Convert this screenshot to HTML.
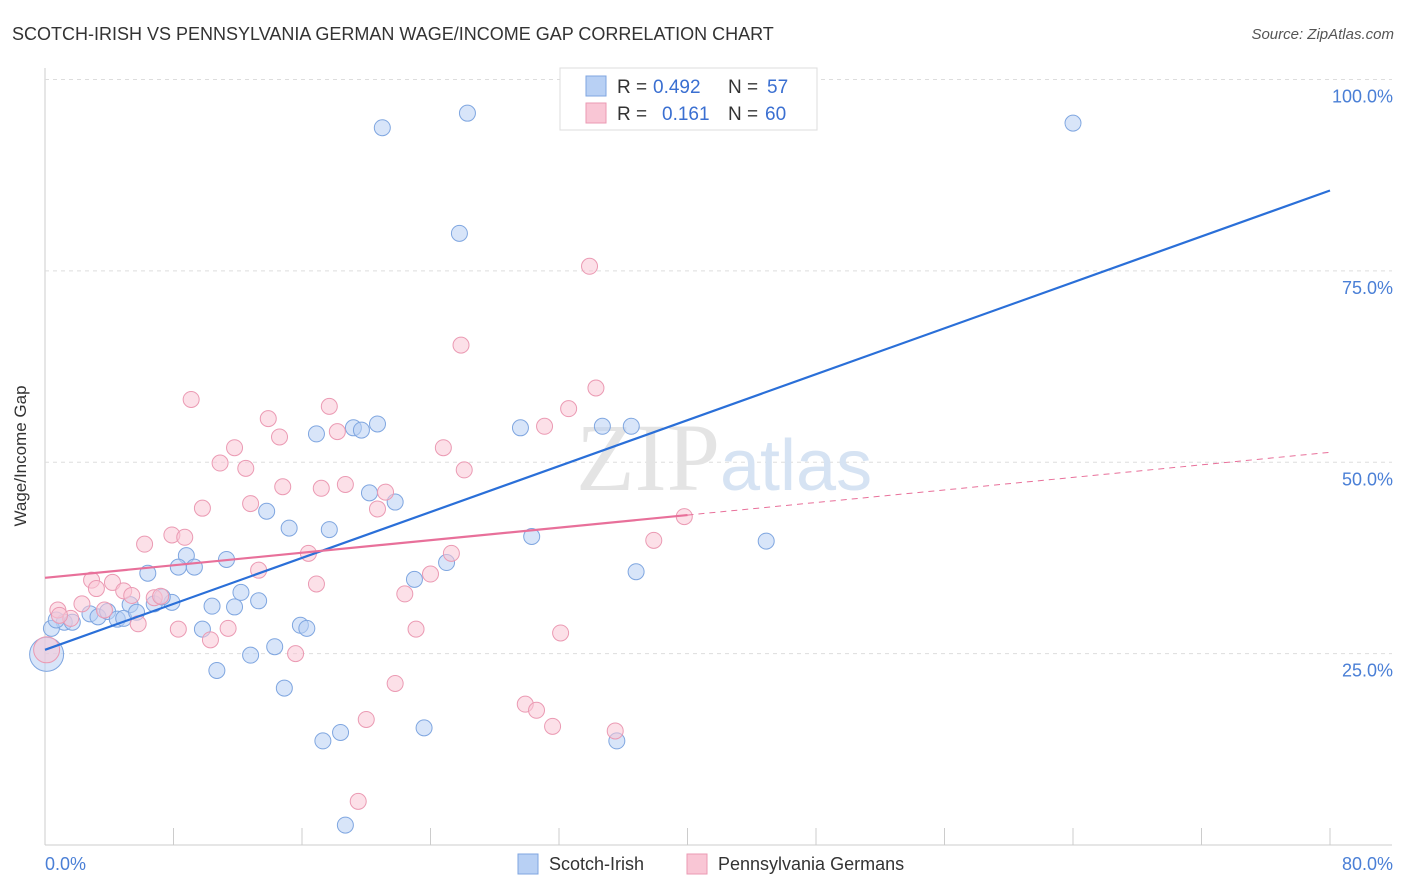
<!DOCTYPE html>
<html><head><meta charset="utf-8">
<style>
body{margin:0;background:#fff;font-family:"Liberation Sans",sans-serif;}
svg{display:block}
</style></head>
<body>
<svg id="chart" width="1406" height="892">
<text x="12" y="40" font-size="18" fill="#333">SCOTCH-IRISH VS PENNSYLVANIA GERMAN WAGE/INCOME GAP CORRELATION CHART</text>
<text x="1394" y="39" font-size="15" fill="#555" font-style="italic" text-anchor="end">Source: ZipAtlas.com</text>
<g id="grid"></g>
<text x="720" y="490" font-size="96" fill="#e4e4e4" text-anchor="end" font-family="Liberation Serif,serif">ZIP</text>
<text x="720" y="490" font-size="72" fill="#d6e3f3">atlas</text>
<g id="points"></g>
<g id="lines"></g>
<text x="26" y="456" font-size="17" fill="#333" text-anchor="middle" transform="rotate(-90 26 456)">Wage/Income Gap</text>
<g>
<rect x="560" y="68" width="257" height="62" fill="#fff" stroke="#ddd"/>
<rect x="586" y="76" width="20" height="20" fill="#b8d0f4" stroke="#7fa6e0"/>
<rect x="586" y="103" width="20" height="20" fill="#f9c6d5" stroke="#eb9ab3"/>
<text x="617" y="93" font-size="19" fill="#333">R =</text>
<text x="653" y="93" font-size="19" fill="#3a6fd1">0.492</text>
<text x="728" y="93" font-size="19" fill="#333">N =</text>
<text x="767" y="93" font-size="19" fill="#3a6fd1">57</text>
<text x="617" y="120" font-size="19" fill="#333">R =</text>
<text x="662" y="120" font-size="19" fill="#3a6fd1">0.161</text>
<text x="728" y="120" font-size="19" fill="#333">N =</text>
<text x="765" y="120" font-size="19" fill="#3a6fd1">60</text>
</g>
<g>
<rect x="518" y="854" width="20" height="20" fill="#b8d0f4" stroke="#7fa6e0"/>
<text x="549" y="870" font-size="18" fill="#333">Scotch-Irish</text>
<rect x="687" y="854" width="20" height="20" fill="#f9c6d5" stroke="#eb9ab3"/>
<text x="718" y="870" font-size="18" fill="#333">Pennsylvania Germans</text>
</g>
</svg>
<script>
const xTickVals=[0,8,16,24,32,40,48,56,64,72,80];
const yTickVals=[25,50,75,100];
const yTickLabels=["25.0%","50.0%","75.0%","100.0%"];
const blueX=[21.0,26.3,64.0,25.8,16.9,19.2,19.7,20.7,29.6,34.7,36.5,13.8,15.2,17.7,20.2,21.8,30.3,44.9,8.8,6.4,8.3,9.3,11.3,5.3,6.8,7.9,10.4,11.8,12.2,13.3,7.3,23.0,25.0,36.8,1.2,1.7,2.8,3.3,3.9,4.5,4.9,5.7,9.8,15.9,16.3,14.3,12.8,10.7,14.9,17.3,18.4,23.6,35.6,18.7,0.4,0.1,0.7];
const blueY=[93.7,95.6,94.3,79.9,53.7,54.5,54.2,55.0,54.5,54.7,54.7,43.6,41.4,41.2,46.0,44.8,40.3,39.7,37.8,35.5,36.3,36.3,37.3,31.4,31.5,31.7,31.2,31.1,33.0,31.9,32.4,34.7,36.9,35.7,29.1,29.1,30.2,29.8,30.5,29.5,29.6,30.4,28.2,28.7,28.3,25.9,24.8,22.8,20.5,13.6,14.7,15.3,13.6,2.6,28.3,24.9,29.4];
const pinkX=[33.9,25.9,34.3,9.1,17.7,13.9,14.6,18.2,11.8,10.9,12.5,24.8,26.1,31.1,32.6,9.8,12.8,14.8,17.2,18.7,21.2,20.7,39.8,37.9,6.2,7.9,8.7,16.4,25.3,13.3,24.0,16.9,2.9,4.2,3.2,4.9,5.4,6.8,7.2,3.7,2.3,0.8,1.6,5.8,8.3,11.4,10.3,23.1,32.1,15.6,22.4,21.8,20.0,29.9,30.6,31.6,35.5,19.5,0.1,0.9];
const pinkY=[75.6,65.3,59.7,58.2,57.3,55.7,53.3,54.0,51.9,49.9,49.2,51.9,49.0,54.7,57.0,44.0,44.6,46.8,46.6,47.1,46.1,43.9,42.9,39.8,39.3,40.5,40.2,38.1,38.1,35.9,35.4,34.1,34.6,34.3,33.5,33.2,32.6,32.3,32.5,30.7,31.5,30.7,29.6,28.9,28.2,28.3,26.8,28.2,27.7,25.0,32.8,21.1,16.4,18.4,17.6,15.5,14.9,5.7,25.5,30.0];
const X=v=>45+v*1285/80, Y=v=>845-v*7.655;
const ns="http://www.w3.org/2000/svg";
const g=document.getElementById('grid'), pts=document.getElementById('points'), ln=document.getElementById('lines');
function mk(tag,attrs,parent){const e=document.createElementNS(ns,tag);for(const k in attrs)e.setAttribute(k,attrs[k]);parent.appendChild(e);return e;}
let ax=mk('line',{x1:45,y1:845,x2:1392,y2:845,stroke:'#ccc'},g);


let ay=mk('line',{x1:45,y1:68,x2:45,y2:845,stroke:'#ccc'},g);


xTickVals.forEach(v=>{let t=mk('line',{x1:X(v),y1:828,x2:X(v),y2:845,stroke:'#ccc'},g);

});
yTickVals.forEach((v,i)=>{let l=mk('line',{x1:45,y1:Y(v),x2:1392,y2:Y(v),stroke:'#ddd','stroke-dasharray':'4,4'},g);


let t=mk('text',{x:1393,y:Y(v)+23,'font-size':18,fill:'#4a7fd6','text-anchor':'end'},g);t.textContent=yTickLabels[i];

});
let x0=mk('text',{x:45,y:870,'font-size':18,fill:'#4a7fd6'},g);x0.textContent='0.0%';


let x1=mk('text',{x:1393,y:870,'font-size':18,fill:'#4a7fd6','text-anchor':'end'},g);x1.textContent='80.0%';


blueX.forEach((v,i)=>{let c=mk('circle',{cx:X(v),cy:Y(blueY[i]),r:(i==55?17:8),fill:'#b8d0f4','fill-opacity':0.55,stroke:'#7fa6e0','stroke-width':1},pts);

});
pinkX.forEach((v,i)=>{let c=mk('circle',{cx:X(v),cy:Y(pinkY[i]),r:(i==58?13:8),fill:'#f9c6d5','fill-opacity':0.55,stroke:'#eb9ab3','stroke-width':1},pts);

});
const blueTrend=[25.5,85.5], pinkTrend=[34.9,51.3];
let bl=mk('line',{x1:X(0),y1:Y(blueTrend[0]),x2:X(80),y2:Y(blueTrend[1]),stroke:'#2a6fd8','stroke-width':2.2},ln);


const pAt=x=>pinkTrend[0]+(pinkTrend[1]-pinkTrend[0])*x/80;
let pl=mk('line',{x1:X(0),y1:Y(pAt(0)),x2:X(40),y2:Y(pAt(40)),stroke:'#e8709a','stroke-width':2.2},ln);


let pd=mk('line',{x1:X(40),y1:Y(pAt(40)),x2:X(80),y2:Y(pAt(80)),stroke:'#e8709a','stroke-width':1,'stroke-dasharray':'6,5'},ln);


</script>
</body></html>
